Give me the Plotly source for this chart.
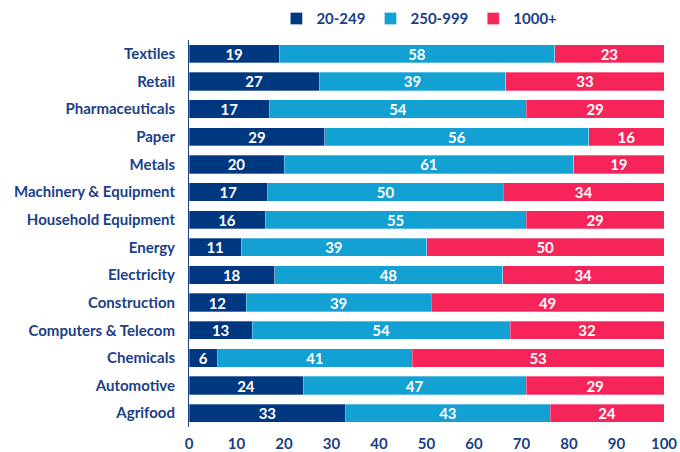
import plotly.graph_objects as go

SECTORES = ["Textiles", "Retail", "Pharmaceuticals", "Paper", "Metals",
            "Machinery & Equipment", "Household Equipment", "Energy",
            "Electricity", "Construction", "Computers & Telecom",
            "Chemicals", "Automotive", "Agrifood"]
# porcentajes (sin redondear donde la suma redondeada no da 100)
PEQUENAS = [19, 27.4, 17, 28.6, 20, 16.6, 16, 11, 18, 12, 13.3, 6, 24, 33]
MEDIANAS = [58, 39.3, 54, 55.6, 61, 49.6, 55, 39, 48, 39, 54.3, 41, 47, 43]
GRANDES = [23, 33.3, 29, 15.8, 19, 33.8, 29, 50, 34, 49, 32.4, 53, 29, 24]

SERIES = [("20-249", PEQUENAS, "#003781"),
          ("250-999", MEDIANAS, "#13a0d3"),
          ("1000+", GRANDES, "#f62459")]

FUENTE = "Lato"
AZUL_TEXTO = "#1b3f87"

fig = go.Figure()
for nombre, valores, color in SERIES:
    fig.add_trace(go.Bar(
        name=nombre,
        y=SECTORES,
        x=valores,
        orientation="h",
        marker=dict(color=color, line=dict(color="rgba(255,255,255,0.5)", width=0.6)),
        texttemplate="%{x:.0f}",
        textposition="inside",
        insidetextanchor="middle",
        textangle=0,
        constraintext="none",
        textfont=dict(color="white", size=15, family=FUENTE, weight="bold"),
        hoverinfo="x+y+name"))

fig.update_layout(
    barmode="stack",
    bargap=0.34,
    width=680, height=452,
    margin=dict(l=189, r=16, t=40, b=25),
    plot_bgcolor="white",
    paper_bgcolor="white",
    font=dict(family=FUENTE, color=AZUL_TEXTO, size=15),
    legend=dict(orientation="h", traceorder="normal",
                x=0.485, xanchor="center", y=0.995, yanchor="top",
                yref="container", font=dict(size=15, weight="bold"),
                itemwidth=30))

fig.update_xaxes(range=[0, 100], dtick=10, showgrid=False, zeroline=False,
                 tickfont=dict(size=15, weight="bold"), ticklabelstandoff=6,
                 automargin=False)
fig.update_yaxes(autorange="reversed", showline=True, linecolor=AZUL_TEXTO,
                 linewidth=1, showgrid=False, ticks="", ticklabelstandoff=10,
                 tickfont=dict(size=15, weight="bold"), automargin=False)

# quitar el margen por defecto del body
fig.write_html("out.html", config={"displayModeBar": False},
               post_script="document.body.style.margin='0';")
